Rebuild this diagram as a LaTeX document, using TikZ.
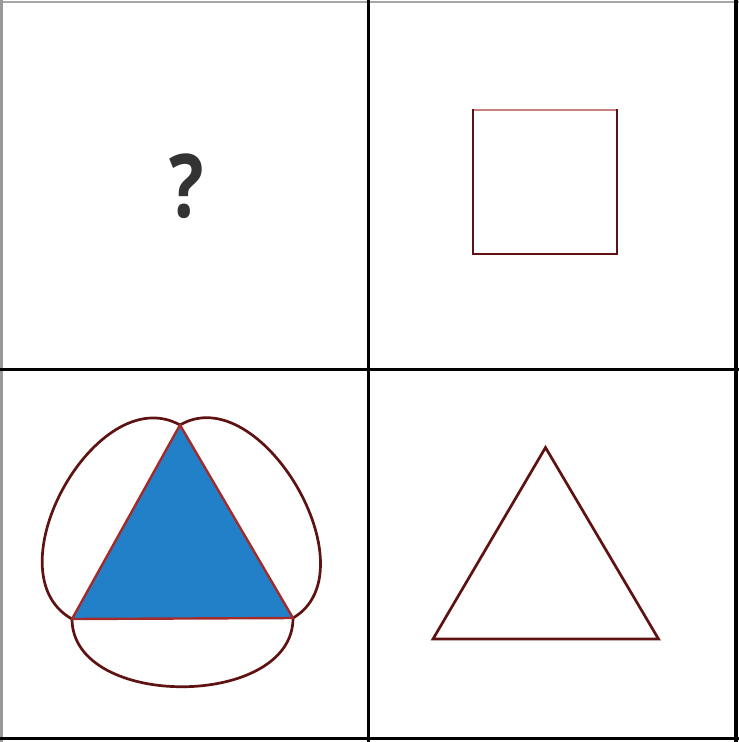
\documentclass[tikz,border=0pt]{standalone}
\usepackage{fontspec}
\newfontfamily\qfont{Open Sans}
\usetikzlibrary{calc}
\definecolor{maroon}{HTML}{5E1212}
\definecolor{redline}{HTML}{A52A2A}
\definecolor{fillblue}{HTML}{2280C8}
\definecolor{qgray}{HTML}{333333}
\tikzset{
  grid/.style={line width=3pt,black},
  outline/.style={line width=2.7pt,draw=maroon},
  tri/.style={line width=2.4pt,draw=redline,line join=round},
}
\begin{document}
\begin{tikzpicture}[x=1pt,y=-1pt]
\useasboundingbox (0,0) rectangle (739,742);
% outer frame
\draw[line width=2.5pt,gray!70] (0,2) -- (739,2);
\draw[line width=2.5pt,gray!80] (1.5,0) -- (1.5,742);
\draw[line width=3.5pt,black] (736,0) -- (736,742);
\draw[line width=3.5pt,black] (0,738.5) -- (739,738.5);
% inner grid
\draw[grid] (368,0) -- (368,742);
\draw[grid] (0,369) -- (739,369);
% question mark
\node[text=qgray,font=\qfont\bfseries\fontsize{88}{88}\selectfont,xscale=0.82,inner sep=0] (q) at (187,186) {?};
% square
\draw[outline] (473,110) rectangle (617,254);
\draw[line width=2pt,redline!60] (474,110) -- (616,110);
% right triangle (outline only)
\coordinate (t2) at (545.5,447.5);
\coordinate (l2) at (433,639);
\coordinate (r2) at (658.5,639);
\draw[outline,line join=miter] (t2) -- (l2) -- (r2) -- cycle;
% lower-left figure
\coordinate (T) at (180,425);
\coordinate (L) at (72,619);
\coordinate (R) at (293,618);
\draw[outline] (T) .. controls ($(T)!95pt!-90:(L)$) and ($(L)!95pt!90:(T)$) .. (L);
\draw[outline] (L) .. controls ($(L)!91pt!-90:(R)$) and ($(R)!91pt!90:(L)$) .. (R);
\draw[outline] (R) .. controls ($(R)!93pt!-90:(T)$) and ($(T)!93pt!90:(R)$) .. (T);
\filldraw[tri,fill=fillblue] (T) -- (L) -- (R) -- cycle;
\end{tikzpicture}
\end{document}
